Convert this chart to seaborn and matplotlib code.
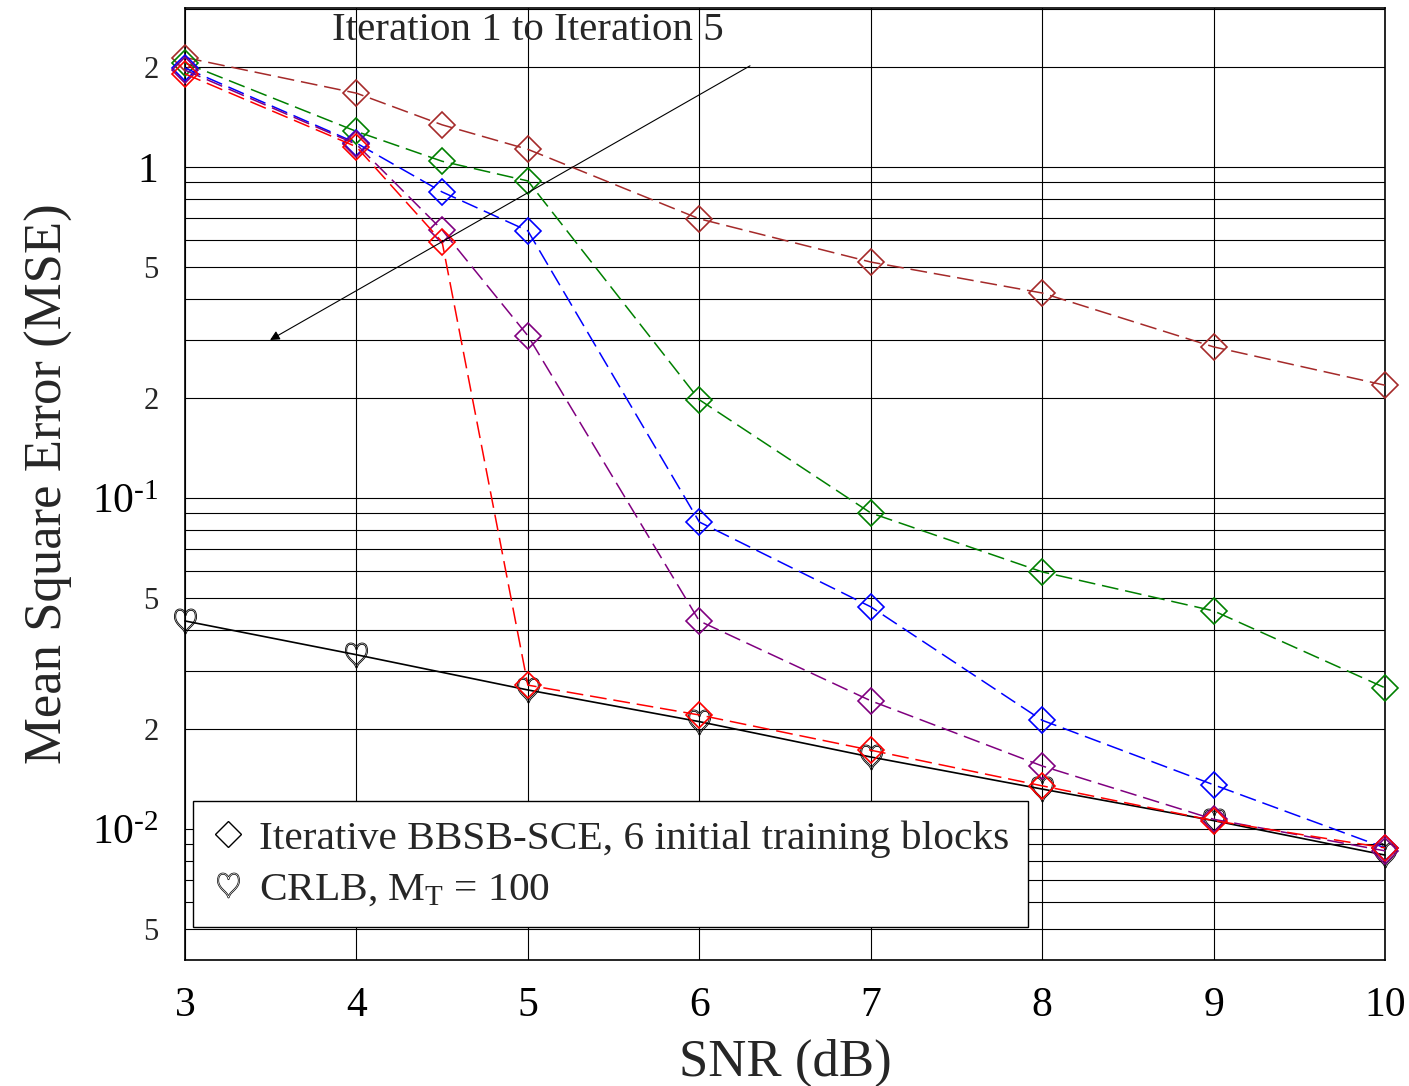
import numpy as np
import pandas as pd
import matplotlib
matplotlib.use("Agg")
import matplotlib.pyplot as plt
from matplotlib.lines import Line2D
from matplotlib.ticker import FixedLocator, FixedFormatter
import seaborn as sns

# ---------------- data ----------------
snr = [3, 4, 4.5, 5, 6, 7, 8, 9, 10]
iter1 = [2.14, 1.67, 1.34, 1.13, 0.697, 0.516, 0.416, 0.286, 0.219]
iter2 = [2.06, 1.28, 1.04, 0.907, 0.198, 0.0901, 0.0598, 0.0456, 0.0267]
iter3 = [1.99, 1.18, 0.840, 0.641, 0.0846, 0.0469, 0.0213, 0.0136, 0.00877]
iter4 = [1.96, 1.17, 0.645, 0.309, 0.0425, 0.0244, 0.0155, 0.0107, 0.00859]
iter5 = [1.91, 1.15, 0.593, 0.0272, 0.0221, 0.0173, 0.0135, 0.0106, 0.00877]
crlb_snr = [3, 4, 5, 6, 7, 8, 9, 10]
crlb = [0.0425, 0.0336, 0.0263, 0.0211, 0.0165, 0.0132, 0.0106, 0.00834]

series_names = ["Iteration 1", "Iteration 2", "Iteration 3", "Iteration 4", "Iteration 5"]
series_vals = [iter1, iter2, iter3, iter4, iter5]
series_colors = ["#a52a2a", "#008000", "#0000ff", "#800080", "#ff0000"]

xticks = [3, 4, 5, 6, 7, 8, 9, 10]
ymajor = [0.01, 0.1, 1]
ymajor_labels = [r"10$^{\text{-}2}$", r"10$^{\text{-}1}$", "1"]
yminor = [m * d for d in (0.001, 0.01, 0.1, 1) for m in range(2, 10)]
ylabel_minor = {2, 5}

annot_text = "Iteration 1 to Iteration 5"
legend_labels = ["Iterative BBSB-SCE, 6 initial training blocks", r"CRLB, M$_{\mathrm{T}}$ = 100"]

# ---------------- style ----------------
sns.set_style("white")
plt.rcParams["font.family"] = ["Liberation Serif", "DejaVu Serif"]
plt.rcParams["mathtext.fontset"] = "custom"
plt.rcParams["mathtext.rm"] = "Liberation Serif"
plt.rcParams["mathtext.it"] = "Liberation Serif:italic"
plt.rcParams["mathtext.bf"] = "Liberation Serif:bold"
plt.rcParams["axes.unicode_minus"] = False

fig = plt.figure(figsize=(14.09, 10.86), dpi=100)
ax = fig.add_axes([185 / 1409, 1 - 960 / 1086, 1200 / 1409, 952 / 1086])

rows = []
for name, vals in zip(series_names, series_vals):
    for x, y in zip(snr, vals):
        rows.append({"SNR": x, "MSE": y, "series": name})
df = pd.DataFrame(rows)

dash = (0, (11, 4.5))
for name, col in zip(series_names, series_colors):
    sub = df[df["series"] == name]
    sns.lineplot(data=sub, x="SNR", y="MSE", ax=ax, color=col, estimator=None,
                 linewidth=1.1, linestyle=dash, marker="D", markersize=13,
                 markerfacecolor="none", markeredgecolor=col, markeredgewidth=1.2,
                 clip_on=False, zorder=4, legend=False)

heart = r"$\heartsuit$"
sns.lineplot(x=crlb_snr, y=crlb, ax=ax, color="black", estimator=None,
             linewidth=1.2, marker=heart, markersize=18, markerfacecolor="none",
             markeredgecolor="black", markeredgewidth=0.6, clip_on=False,
             zorder=3, legend=False)

ax.set_yscale("log")
ax.set_xlim(3, 10)
ax.set_ylim(4.02e-3, 3.02)

ax.xaxis.set_major_locator(FixedLocator(xticks))
ax.set_xticklabels([str(t) for t in xticks])
ax.yaxis.set_major_locator(FixedLocator(ymajor))
ax.yaxis.set_major_formatter(FixedFormatter(ymajor_labels))
ax.yaxis.set_minor_locator(FixedLocator(yminor))
minor_lbls = []
for v in yminor:
    m = int(round(v / 10 ** np.floor(np.log10(v) + 1e-9)))
    minor_lbls.append(str(m) if m in ylabel_minor else "")
ax.yaxis.set_minor_formatter(FixedFormatter(minor_lbls))

ax.tick_params(axis="both", which="major", direction="in", length=7, width=1,
               labelsize=30, colors="black")
ax.tick_params(axis="y", which="major", pad=19)
ax.tick_params(axis="x", which="major", pad=19)
ax.tick_params(axis="y", which="minor", direction="in", length=0, labelsize=22, pad=19)

ax.grid(True, which="major", axis="x", color="black", linewidth=0.8)
ax.grid(True, which="both", axis="y", color="black", linewidth=0.8)
ax.set_axisbelow(True)
for s in ax.spines.values():
    s.set_color("black")
    s.set_linewidth(1.2)

ax.set_xlabel("SNR (dB)", fontsize=38, labelpad=10)
ax.set_ylabel("Mean Square Error (MSE)", fontsize=38, labelpad=14)

# annotation arrow
ax.annotate("", xy=(3.496, 0.300), xytext=(6.296, 2.02),
            arrowprops=dict(arrowstyle="-|>", color="black", lw=0.8, mutation_scale=14,
                            shrinkA=0, shrinkB=0), zorder=5)
ax.text(5.0, 2.42, annot_text, fontsize=29.5, ha="center", va="baseline", zorder=5)

handles = [
    Line2D([], [], linestyle="none", marker="D", markersize=13, markerfacecolor="none",
           markeredgecolor="black", markeredgewidth=1.0),
    Line2D([], [], linestyle="none", marker=heart, markersize=18, markerfacecolor="none",
           markeredgecolor="black", markeredgewidth=0.5),
]
leg = ax.legend(handles, legend_labels, loc="lower left", bbox_to_anchor=(0.0067, 0.0347),
                borderaxespad=0, fontsize=29.8, frameon=True, fancybox=False,
                handlelength=0.8, handletextpad=0.35, borderpad=0.45, labelspacing=0.3,
                edgecolor="black", framealpha=1)
leg.get_frame().set_linewidth(1.0)
leg.set_zorder(6)

fig.savefig("out.png", dpi=100)
